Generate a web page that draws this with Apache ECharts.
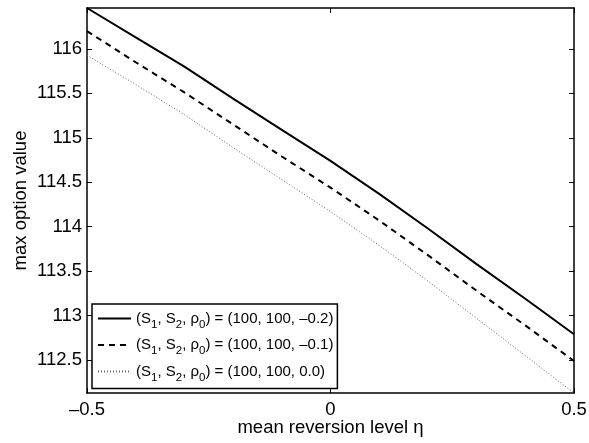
<!DOCTYPE html>
<html>
<head>
<meta charset="utf-8">
<script src="https://cdn.jsdelivr.net/npm/echarts@6/dist/echarts.min.js"></script>
<style>
  html, body { margin: 0; padding: 0; background: #fff; }
  #chart { width: 589px; height: 443px; }
</style>
</head>
<body>
<div id="chart"></div>
<script>
// mean reversion level eta
const eta = [-0.5, -0.4, -0.3, -0.2, -0.1, 0, 0.1, 0.2, 0.3, 0.4, 0.5]
// max option value for rho0 = -0.2, -0.1, 0.0
const valRhoM02 = [116.46, 116.13, 115.80, 115.44, 115.09, 114.74, 114.37, 113.98, 113.58, 113.19, 112.79]
const valRhoM01 = [116.20, 115.85, 115.51, 115.15, 114.79, 114.44, 114.07, 113.68, 113.28, 112.89, 112.49]
const valRho00 = [115.93, 115.60, 115.26, 114.89, 114.53, 114.17, 113.79, 113.39, 112.97, 112.55, 112.13]
const rhoLabels = ['–0.2', '–0.1', '0.0']
const yTicks = [112.5, 113, 113.5, 114, 114.5, 115, 115.5, 116]

const FONT = 'Liberation Sans, Arial, Helvetica, sans-serif'
const fmtMinus = v => String(v).replace('-', '–')

const pairs = vals => eta.map((x, i) => [x, vals[i]])
const yMin = Math.min(...valRho00)
const yMax = Math.max(...valRhoM02)

const names = rhoLabels.map(r => 'rho ' + r)

const chart = echarts.init(document.getElementById('chart'))

const axisCommon = {
  axisLine: { onZero: false, lineStyle: { color: '#000', width: 1.5 } },
  splitLine: { show: false }
}

const option = {
  animation: false,
  backgroundColor: '#fff',
  grid: { left: 87, right: 15, top: 8, bottom: 50, outerBoundsMode: 'none', containLabel: false },
  legend: {
    orient: 'vertical',
    left: 92,
    top: 304,
    data: names,
    backgroundColor: '#fff',
    borderColor: '#000',
    borderWidth: 1.5,
    borderRadius: 0,
    padding: [7, 4, 5, 5],
    itemWidth: 33,
    itemHeight: 14,
    itemGap: 7,
    itemStyle: { opacity: 0 },
    formatter: name => {
      const r = rhoLabels[names.indexOf(name)]
      return `{t|(S}{s|1}{t|, S}{s|2}{t|, ρ}{s|0}{t|) = (100, 100, ${r})}`
    },
    textStyle: {
      color: '#000',
      fontFamily: FONT,
      rich: {
        t: { fontSize: 15, lineHeight: 16, fontFamily: FONT, color: '#000' },
        s: { fontSize: 11.5, padding: [6, 0, -6, 0], fontFamily: FONT, color: '#000' }
      }
    }
  },
  xAxis: [
    {
      ...axisCommon,
      type: 'value',
      min: -0.5,
      max: 0.5,
      interval: 0.5,
      name: 'mean reversion level η',
      nameLocation: 'middle',
      nameGap: 35,
      nameMoveOverlap: false,
      nameTextStyle: { fontSize: 18.5, fontFamily: FONT, color: '#000', verticalAlign: 'middle' },
      axisTick: { inside: true, length: 5, lineStyle: { color: '#000' } },
      axisLabel: { fontSize: 18.5, fontFamily: FONT, color: '#000', margin: 7, formatter: fmtMinus }
    },
    {
      ...axisCommon,
      type: 'value',
      position: 'top',
      min: -0.5,
      max: 0.5,
      interval: 0.5,
      axisTick: { inside: true, length: 5, lineStyle: { color: '#000' } },
      axisLabel: { show: false }
    }
  ],
  yAxis: [
    {
      ...axisCommon,
      type: 'value',
      min: yMin,
      max: yMax,
      name: 'max option value',
      nameLocation: 'middle',
      nameGap: 66,
      nameMoveOverlap: false,
      nameTextStyle: { fontSize: 18.5, fontFamily: FONT, color: '#000', verticalAlign: 'middle' },
      axisTick: { inside: true, length: 5, customValues: yTicks, lineStyle: { color: '#000' } },
      axisLabel: { fontSize: 18.5, fontFamily: FONT, color: '#000', margin: 5, customValues: yTicks }
    },
    {
      ...axisCommon,
      type: 'value',
      position: 'right',
      min: yMin,
      max: yMax,
      axisTick: { inside: true, length: 5, customValues: yTicks, lineStyle: { color: '#000' } },
      axisLabel: { show: false }
    }
  ],
  series: [
    {
      name: names[0],
      type: 'line',
      data: pairs(valRhoM02),
      symbol: 'none',
      lineStyle: { color: '#000', width: 2, type: 'solid' },
      itemStyle: { color: '#000' }
    },
    {
      name: names[1],
      type: 'line',
      data: pairs(valRhoM01),
      symbol: 'none',
      lineStyle: { color: '#000', width: 2, type: [6, 5] },
      itemStyle: { color: '#000' }
    },
    {
      name: names[2],
      type: 'line',
      data: pairs(valRho00),
      symbol: 'none',
      lineStyle: { color: '#666', width: 1, type: [1, 2] },
      itemStyle: { color: '#666' }
    }
  ]
}

chart.setOption(option)
</script>
</body>
</html>
